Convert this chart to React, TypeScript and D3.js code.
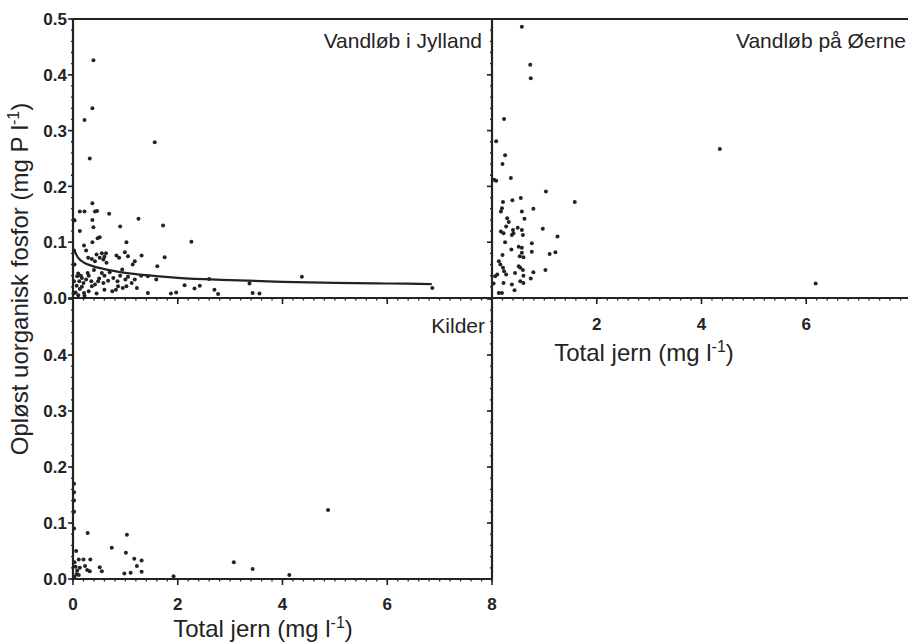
import React from 'react';
import * as d3 from 'd3';

// tick values and labels
const X_TICKS = [0, 2, 4, 6, 8];
const X_TICK_LABELS = ['0', '2', '4', '6', '8'];
const Y_TICKS = [0, 0.1, 0.2, 0.3, 0.4, 0.5];
const Y_TICK_LABELS = ['0.0', '0.1', '0.2', '0.3', '0.4', '0.5'];

const PANEL_TITLES = ['Vandløb i Jylland', 'Vandløb på Øerne', 'Kilder'];

// [total jern, opløst uorganisk fosfor]
const jyllandPoints = [
  [0.39, 0.426], [0.37, 0.34], [0.22, 0.319], [0.32, 0.25], [1.56, 0.279],
  [0.37, 0.17], [0.13, 0.155], [0.22, 0.155], [0.42, 0.155], [0.46, 0.156],
  [0.03, 0.139], [0.37, 0.14], [0.69, 0.151], [1.25, 0.142],
  [0.13, 0.12], [0.39, 0.127], [0.9, 0.128], [1.72, 0.13],
  [0.21, 0.094], [0.37, 0.1], [0.47, 0.107], [0.51, 0.109], [1.02, 0.1], [2.26, 0.101],
  [0.29, 0.072], [0.36, 0.07], [0.45, 0.078], [0.55, 0.08], [0.63, 0.08], [0.51, 0.072],
  [0.58, 0.069], [0.42, 0.066], [0.64, 0.063], [0.25, 0.085], [0.6, 0.074],
  [0.83, 0.076], [0.88, 0.072], [0.99, 0.082], [1.05, 0.075], [1.18, 0.066], [1.14, 0.06],
  [1.31, 0.076], [1.61, 0.057], [1.75, 0.073], [0.94, 0.051],
  [0.08, 0.039], [0.17, 0.036], [0.2, 0.027], [0.07, 0.022], [0.13, 0.016], [0.21, 0.009],
  [0.22, 0.004], [0.36, 0.021], [0.42, 0.024], [0.48, 0.03], [0.58, 0.027], [0.67, 0.031],
  [0.77, 0.036], [0.86, 0.021], [0.82, 0.015], [1.02, 0.021], [1.12, 0.027], [1.18, 0.033],
  [1.22, 0.018], [1.43, 0.039], [1.59, 0.033], [1.43, 0.009], [1.87, 0.008], [1.97, 0.01],
  [2.13, 0.023], [2.32, 0.017], [2.42, 0.022], [2.6, 0.034], [2.7, 0.015], [2.77, 0.007],
  [3.37, 0.026], [3.43, 0.009], [3.56, 0.008], [4.37, 0.038], [6.86, 0.018],
  [0.1, 0.044], [0.15, 0.04], [0.25, 0.033], [0.3, 0.04], [0.35, 0.03], [0.5, 0.035],
  [0.6, 0.04], [0.7, 0.046], [0.9, 0.04], [1.0, 0.033], [1.05, 0.038], [1.3, 0.04],
  [0.12, 0.03], [0.17, 0.02], [0.3, 0.012], [0.45, 0.008], [0.6, 0.015], [0.75, 0.012],
  [0.95, 0.018], [0.05, 0.01], [0.1, 0.005], [0.02, 0.14], [0.02, 0.085], [0.03, 0.06],
  [0.02, 0.03], [0.01, 0.008], [0.28, 0.045], [0.4, 0.05], [0.55, 0.045], [0.85, 0.03],
];

const jyllandFit = [
  [0.02, 0.086], [0.1, 0.072], [0.2, 0.064], [0.35, 0.058], [0.5, 0.054], [0.75, 0.049],
  [1, 0.045], [1.5, 0.04], [2, 0.036], [3, 0.032], [4, 0.029], [5, 0.027], [6, 0.026],
  [6.85, 0.025],
];

const oernePoints = [
  [0.57, 0.486], [0.73, 0.418], [0.74, 0.394], [0.23, 0.321], [0.08, 0.281], [0.25, 0.256],
  [0.2, 0.24], [0.36, 0.215], [0.04, 0.212], [0.08, 0.21], [1.03, 0.191], [1.58, 0.172],
  [0.21, 0.172], [0.39, 0.175], [0.55, 0.179], [0.19, 0.161], [0.17, 0.155], [0.57, 0.155],
  [0.79, 0.16], [0.62, 0.142], [0.29, 0.143], [0.32, 0.136], [0.27, 0.128], [0.49, 0.126],
  [0.4, 0.122], [0.57, 0.122], [0.59, 0.113], [0.17, 0.119], [0.22, 0.116], [0.38, 0.113],
  [0.41, 0.116], [0.97, 0.124], [1.25, 0.11], [0.25, 0.1], [0.76, 0.098], [0.37, 0.087],
  [0.51, 0.092], [0.57, 0.09], [0.53, 0.075], [0.6, 0.073], [0.57, 0.081], [0.76, 0.083],
  [1.1, 0.079], [1.21, 0.082], [0.2, 0.077], [0.13, 0.066], [0.16, 0.06], [0.21, 0.054],
  [0.23, 0.048], [0.1, 0.042], [0.06, 0.039], [0.27, 0.042], [0.44, 0.045], [0.51, 0.057],
  [0.54, 0.054], [0.59, 0.05], [0.6, 0.04], [0.79, 0.046], [1.02, 0.05], [0.74, 0.035],
  [0.22, 0.027], [0.38, 0.024], [0.54, 0.03], [0.6, 0.027], [0.43, 0.014], [0.13, 0.009],
  [0.19, 0.009], [0.03, 0.026], [6.18, 0.026], [4.35, 0.267],
];

const kilderPoints = [
  [4.87, 0.123], [0.28, 0.082], [1.03, 0.079], [0.74, 0.056], [1.01, 0.047], [1.17, 0.036],
  [1.31, 0.033], [1.22, 0.023], [1.31, 0.013], [1.1, 0.011], [0.98, 0.01], [0.51, 0.021],
  [0.55, 0.014], [0.32, 0.014], [0.27, 0.016], [0.33, 0.035], [0.2, 0.035], [0.11, 0.035],
  [0.23, 0.023], [0.06, 0.05], [0.05, 0.022], [0.08, 0.015], [0.07, 0.009], [0.11, 0.007],
  [0.03, 0.004], [0.13, 0.02], [3.07, 0.03], [3.43, 0.018], [4.13, 0.007], [1.92, 0.005],
  [0.02, 0.17], [0.02, 0.155], [0.02, 0.14], [0.02, 0.12], [0.02, 0.09], [0.03, 0.03],
];

const INK = '#232323';
const FONT = 'Liberation Sans, Arial, Helvetica, sans-serif';

export default function App() {
  const xL = d3.scaleLinear().domain([0, 8]).range([73, 492]);
  const xR = d3.scaleLinear().domain([0, 8]).range([492, 911]);
  const yT = d3.scaleLinear().domain([0, 0.5]).range([298, 19]);
  const yB = d3.scaleLinear().domain([0, 0.5]).range([579, 299]);

  const minorX = d3.range(0, 8.001, 0.2);
  const minorY = d3.range(0, 0.5001, 0.02);

  const fitLine = d3.line<number[]>()
    .x((d) => xL(d[0]))
    .y((d) => yT(d[1]))
    .curve(d3.curveMonotoneX);

  // ticks pointing left off a vertical line at x0
  const yTicks = (y: d3.ScaleLinear<number, number>, x0: number, key: string) => (
    <g key={key}>
      {minorY.map((v, i) => (
        <line key={'m' + i} x1={x0 - 2} x2={x0} y1={y(v)} y2={y(v)} stroke={INK} strokeWidth={1.3} />
      ))}
      {Y_TICKS.map((v, i) => (
        <line key={'M' + i} x1={x0 - 5} x2={x0} y1={y(v)} y2={y(v)} stroke={INK} strokeWidth={1.6} />
      ))}
    </g>
  );

  // ticks pointing down off a horizontal line at y0
  const xTicks = (x: d3.ScaleLinear<number, number>, y0: number, key: string) => (
    <g key={key}>
      {minorX.map((v, i) => (
        <line key={'m' + i} x1={x(v)} x2={x(v)} y1={y0} y2={y0 + 2.5} stroke={INK} strokeWidth={1.3} />
      ))}
      {X_TICKS.map((v, i) => (
        <line key={'M' + i} x1={x(v)} x2={x(v)} y1={y0} y2={y0 + 6} stroke={INK} strokeWidth={1.6} />
      ))}
    </g>
  );

  const dots = (pts: number[][], x: any, y: any, key: string) => (
    <g key={key} fill={INK}>
      {pts.map((d, i) => (
        <circle key={i} cx={x(d[0])} cy={y(d[1])} r={2} />
      ))}
    </g>
  );

  const unit = (label: string) => (
    <>
      {label}
      <tspan fontSize="16" dy="-9">-1</tspan>
      <tspan dy="9">)</tspan>
    </>
  );

  return (
    <svg width={908} height={644} style={{ position: 'absolute', left: 0, top: 0, background: '#fff' }}
      fontFamily={FONT}>
      <rect x={0} y={0} width={908} height={644} fill="#fff" />

      {/* ticks */}
      {yTicks(yT, xL(0), 'ylt')}
      {yTicks(yB, xL(0), 'ylb')}
      {yTicks(yT, xR(0), 'yrt')}
      {yTicks(yB, xR(0), 'yrb')}
      {xTicks(xL, yT(0), 'xlt')}
      {xTicks(xR, yT(0), 'xrt')}
      {xTicks(xL, yB(0), 'xlb')}

      {/* frame lines */}
      <g stroke={INK} strokeWidth={2.2} fill="none">
        <line x1={xL(0)} x2={xL(0)} y1={yT(0.5)} y2={yB(0)} />
        <line x1={xR(0)} x2={xR(0)} y1={yT(0.5)} y2={yB(0)} />
        <line x1={xL(0)} x2={908} y1={yT(0.5)} y2={yT(0.5)} />
        <line x1={xL(0)} x2={908} y1={yT(0)} y2={yT(0)} />
        <line x1={xL(0)} x2={xL(8)} y1={yB(0)} y2={yB(0)} />
      </g>

      {/* data */}
      {dots(jyllandPoints, xL, yT, 'pj')}
      {dots(oernePoints, xR, yT, 'po')}
      {dots(kilderPoints, xL, yB, 'pk')}
      <path d={fitLine(jyllandFit) || ''} fill="none" stroke={INK} strokeWidth={2.2} />

      {/* y tick labels */}
      <g fontSize="17" fontWeight="bold" fill={INK} textAnchor="end">
        {Y_TICKS.map((v, i) => (
          <text key={'t' + i} x={67} y={yT(v)} dy="0.36em">{Y_TICK_LABELS[i]}</text>
        ))}
        {Y_TICKS.slice(0, 5).map((v, i) => (
          <text key={'b' + i} x={67} y={yB(v)} dy="0.36em">{Y_TICK_LABELS[i]}</text>
        ))}
      </g>

      {/* x tick labels */}
      <g fontSize="17" fontWeight="bold" fill={INK} textAnchor="middle">
        {X_TICKS.map((v, i) => (
          <text key={'b' + i} x={xL(v)} y={610}>{X_TICK_LABELS[i]}</text>
        ))}
        {X_TICKS.slice(1, 4).map((v, i) => (
          <text key={'r' + i} x={xR(v)} y={330}>{X_TICK_LABELS[i + 1]}</text>
        ))}
      </g>

      {/* panel titles */}
      <g fontSize="21" fill={INK} textAnchor="end">
        <text x={482} y={48}>{PANEL_TITLES[0]}</text>
        <text x={906} y={48}>{PANEL_TITLES[1]}</text>
        <text x={485} y={333}>{PANEL_TITLES[2]}</text>
      </g>

      {/* axis titles */}
      <g fontSize="24" fill={INK} textAnchor="middle">
        <text x={263} y={637}>{unit('Total jern (mg l')}</text>
        <text x={644} y={361}>{unit('Total jern (mg l')}</text>
        <text transform="translate(28,279) rotate(-90)">{unit('Opløst uorganisk fosfor (mg P l')}</text>
      </g>
    </svg>
  );
}
